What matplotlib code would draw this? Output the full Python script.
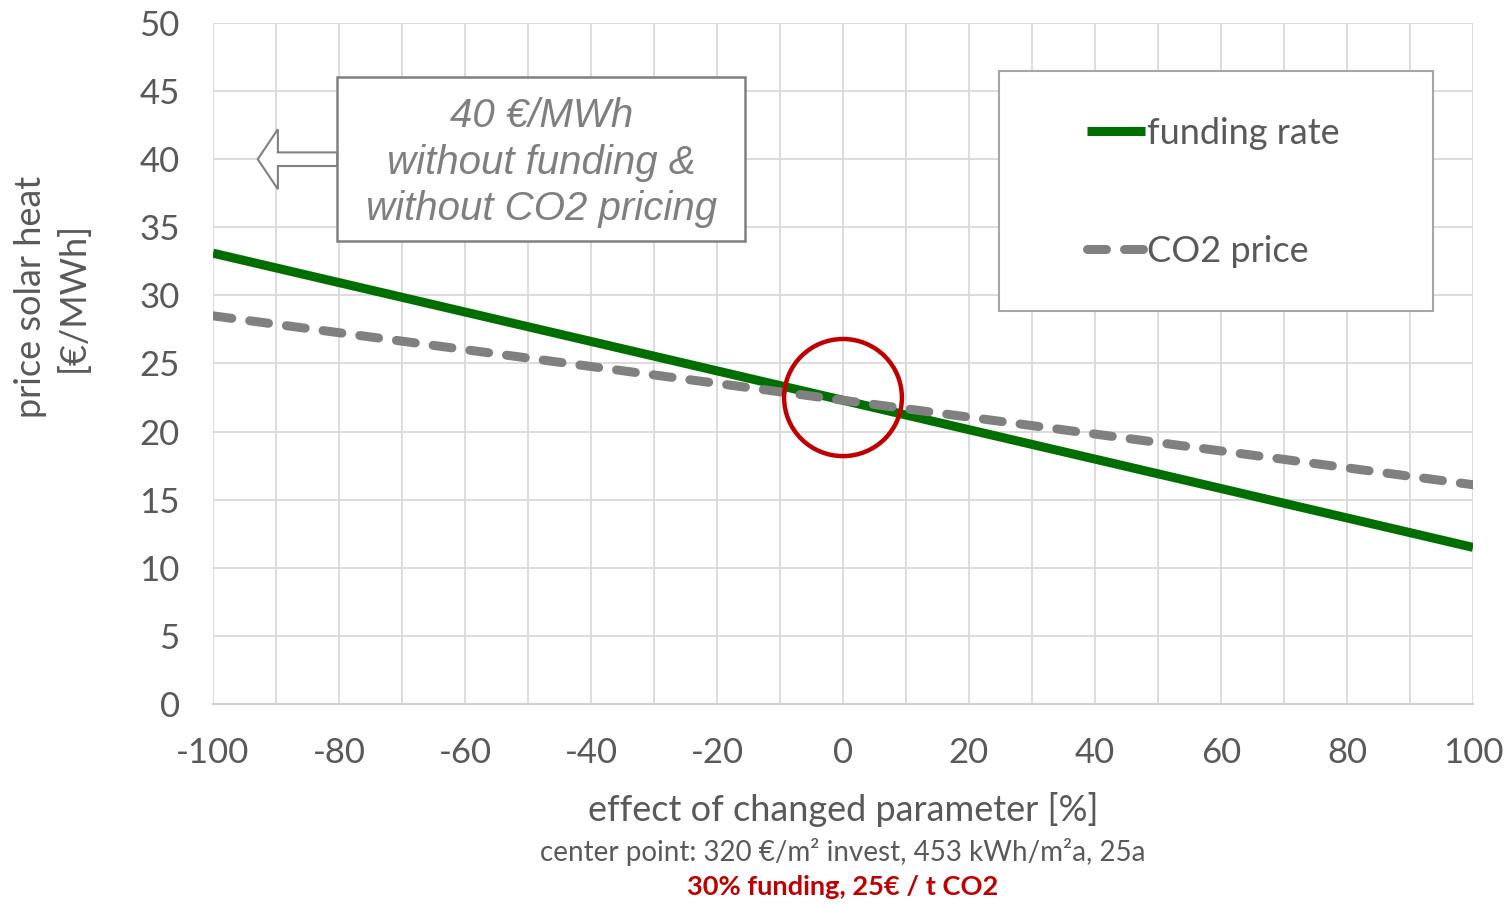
#!/usr/bin/env python3

import numpy as np
import matplotlib.pyplot as plt
from matplotlib.patches import Rectangle, Ellipse, FancyArrow

plt.rcParams['font.family'] = ['Lato', 'DejaVu Sans']
plt.rcParams['axes.unicode_minus'] = False

# parameter change [%] and resulting heat price [EUR/MWh]
change = np.array([-100, 0, 100])
funding_rate = np.array([33.1, 22.3, 11.5])
co2_price = np.array([28.5, 22.3, 16.1])

x_ticks = np.arange(-100, 101, 20)
y_ticks = np.arange(0, 51, 5)

note_lines = ["40 €/MWh", "without funding &", "without CO2 pricing"]

txt_gray = '#595959'
green = '#006E00'
gray = '#808080'

fig = plt.figure(figsize=(15.1, 9.05), dpi=100)
ax = fig.add_axes([213/1510, 1-704/905, 1260/1510, 681/905])

ax.plot(change, funding_rate, color=green, lw=6.5, solid_capstyle='butt',
        label='funding rate')
ax.plot(change, co2_price, color=gray, lw=6.5, dashes=(2.1, 2.0),
        dash_capstyle='round', label='CO2 price')

ax.set_xlim(-100, 100)
ax.set_ylim(0, 50)
ax.set_xticks(x_ticks)
ax.set_xticks(np.arange(-100, 101, 10), minor=True)
ax.set_yticks(y_ticks)
ax.grid(True, which='both', axis='x', color='#d9d9d9', lw=1.3)
ax.grid(True, axis='y', color='#d9d9d9', lw=1.3)
ax.set_axisbelow(True)
for s in ['top', 'right', 'left']:
    ax.spines[s].set_visible(False)
ax.spines['bottom'].set_color('#d0d0d0')
ax.spines['bottom'].set_linewidth(1.5)
ax.tick_params(which='both', length=0, labelsize=25, labelcolor=txt_gray, pad=24)

ax.set_xlabel("effect of changed parameter [%]", fontsize=26, color=txt_gray,
              labelpad=16)
fig.text(843/1510, 1-852/905, "center point: 320 €/m² invest, 453 kWh/m²a, 25a",
         ha='center', va='center', fontsize=20, color=txt_gray)
fig.text(843/1510, 1-887/905, "30% funding, 25€ / t CO2", ha='center', va='center',
         fontsize=19.6, color='#C00000', fontweight='bold')
fig.text(52/1510, 1-297/905, "price solar heat\n[€/MWh]", rotation=90,
         ha='center', va='center', multialignment='center', fontsize=26,
         color=txt_gray, linespacing=1.3)

# annotation box with hollow arrow
ax.add_patch(Rectangle((-80.3, 34.0), 64.7, 12.0, facecolor='white',
                       edgecolor=gray, lw=1.8, zorder=4))
ax.add_patch(FancyArrow(-80.3, 40, -12.6, 0, width=1.0, head_width=4.4,
                        head_length=3.2, length_includes_head=True,
                        facecolor='white', edgecolor=gray, lw=1.5, zorder=4))
ax.text(-47.9, 39.75, "\n".join(note_lines), ha='center', va='center',
        fontsize=29, style='italic', color='#7f7f7f', family='Liberation Sans',
        linespacing=1.29, zorder=5)

# red circle round the center point
ax.add_patch(Ellipse((0, 22.5), 18.7, 8.6, fill=False, edgecolor='#C00000',
                     lw=3.2, zorder=5))

# legend with its own frame
ax.add_patch(Rectangle((0.6238, 0.5771), 0.3445, 0.3524, transform=ax.transAxes,
                       facecolor='white', edgecolor='#a6a6a6', lw=1.5, zorder=4))
leg = ax.legend(loc='center left', bbox_to_anchor=(0.694, 0.751), frameon=False,
                fontsize=26, handlelength=1.6, handletextpad=0.05, labelspacing=2.35,
                borderpad=0, borderaxespad=0, labelcolor=txt_gray)
leg.set_zorder(6)

fig.savefig('out.png', dpi=100)
